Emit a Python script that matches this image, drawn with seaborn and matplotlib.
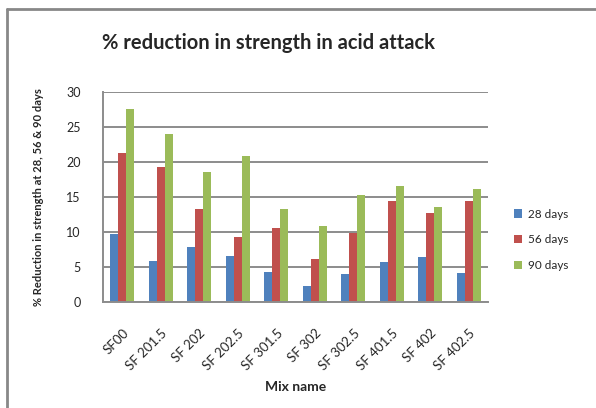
import numpy as np
import pandas as pd
import seaborn as sns
from matplotlib import pyplot as plt

mixes = ['SF00', 'SF 201.5', 'SF 202', 'SF 202.5', 'SF 301.5',
         'SF 302', 'SF 302.5', 'SF 401.5', 'SF 402', 'SF 402.5']
days28 = [9.7, 5.8, 7.8, 6.6, 4.3, 2.3, 4.0, 5.7, 6.4, 4.1]
days56 = [21.2, 19.2, 13.2, 9.2, 10.5, 6.1, 9.9, 14.4, 12.7, 14.4]
days90 = [27.6, 24.0, 18.5, 20.9, 13.3, 10.8, 15.2, 16.6, 13.6, 16.1]
series = ['28 days', '56 days', '90 days']
cores = ['#4F81BD', '#C0504D', '#9BBB59']

dados = pd.DataFrame({'Mix name': mixes, '28 days': days28,
                      '56 days': days56, '90 days': days90})
dados = dados.melt(id_vars='Mix name', var_name='idade', value_name='red')

sns.set_style('white')
plt.rcParams['font.family'] = ['Lato', 'DejaVu Sans']

fig = plt.figure(figsize=(5.96, 4.08), dpi=100)
ax = fig.add_axes([0.173, 0.26, 0.646, 0.515])

sns.barplot(data=dados, x='Mix name', y='red', hue='idade',
            hue_order=series, palette=cores, width=0.62,
            saturation=1, edgecolor='none', ax=ax)

ax.set_ylim(0, 30)
ax.set_yticks(range(0, 31, 5))
ax.set_xlim(-0.5, len(mixes) - 0.5)
ax.grid(True, axis='y', color='#8c8c8c', linewidth=1.4)
ax.set_axisbelow(True)
for s in ['top', 'right']:
    ax.spines[s].set_visible(False)
ax.spines['left'].set_color('#8c8c8c')
ax.spines['bottom'].set_color('#8c8c8c')
ax.spines['left'].set_linewidth(1.4)
ax.spines['bottom'].set_linewidth(1.4)
ax.tick_params(axis='y', length=4, color='#8c8c8c', labelsize=9, pad=12)
ax.tick_params(axis='x', length=0, labelsize=9.5, pad=18)
plt.setp(ax.get_xticklabels(), rotation=45, ha='right', rotation_mode='anchor')

ax.set_xlabel('Mix name', fontsize=10, fontweight='bold', labelpad=6)
ax.set_ylabel('% Reduction in strength at 28, 56 & 90 days', fontsize=8,
              fontweight='bold', labelpad=16)
fig.text(0.45, 0.895, '% reduction in strength in acid attack',
         fontsize=14.5, fontweight='bold', ha='center', va='center')

ax.legend(loc='center left', bbox_to_anchor=(1.04, 0.295), frameon=False,
          fontsize=8.5, handlelength=0.7, handleheight=0.7, labelspacing=1.25,
          handletextpad=0.5)

# moldura do grafico
fig.add_artist(plt.Line2D([7/596, 7/596], [0, 1 - 9/408], color='#888888', lw=2))
fig.add_artist(plt.Line2D([7/596, 1], [1 - 9/408, 1 - 9/408], color='#888888', lw=2))

fig.savefig('out.png', dpi=100)
